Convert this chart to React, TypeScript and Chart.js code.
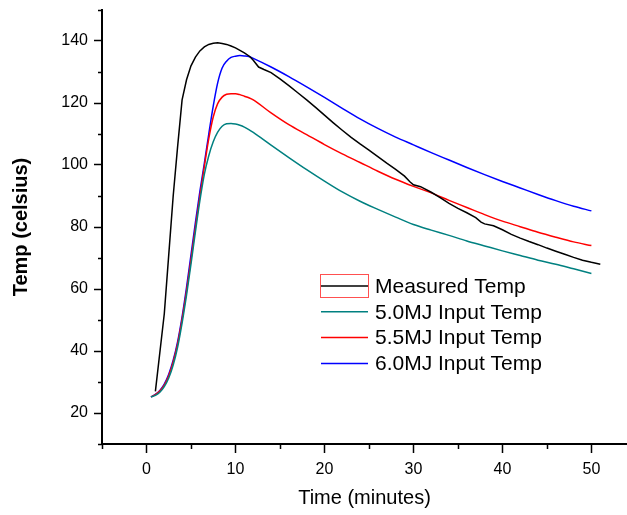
import React, { useEffect, useRef } from 'react';
import { Chart, registerables } from 'chart.js';

Chart.register(...registerables);

const FONT = '"Liberation Sans", Arial, Helvetica, sans-serif';

// Model run times (minutes)
const modelTimes = [
  0.5, 1, 1.5, 2, 2.5, 3, 3.5, 4, 4.5, 5, 5.5, 6, 6.5, 7, 7.5, 8, 8.5, 9, 9.5, 10, 10.5, 11, 11.5, 12,
  14, 16, 18, 20, 22, 24, 26, 28, 30, 32, 34, 36, 38, 40, 42, 44, 46, 48, 50,
];

const input50Temps = [
  25.2, 25.7, 26.7, 28.5, 31.3, 35.5, 41.3, 49.0, 58.0, 68.0, 78.5, 88.5, 97.0, 103.0, 107.5, 110.6, 112.5, 113.3, 113.4, 113.2, 112.8, 112.2, 111.4, 110.5,
  106.4, 102.4, 98.5, 94.8, 91.3, 88.3, 85.7, 83.2, 80.8, 79.0, 77.3, 75.5, 73.9, 72.3, 70.8, 69.3, 68.0, 66.5, 65.0,
];

const input55Temps = [
  25.2, 25.9, 27.1, 29.0, 32.0, 36.5, 42.3, 50.2, 59.3, 69.5, 80.0, 90.0, 99.5, 108.5, 115.5, 119.8, 121.9, 122.8, 123.0, 123.0, 122.7, 122.2, 121.7, 121.0,
  116.8, 113.0, 109.8, 106.6, 103.6, 100.8, 98.0, 95.4, 93.1, 91.0, 88.6, 86.3, 84.0, 81.9, 80.1, 78.3, 76.7, 75.2, 74.0,
];

const input60Temps = [
  25.2, 26.0, 27.3, 29.3, 32.5, 37.0, 43.0, 51.0, 60.5, 71.0, 81.5, 91.5, 100.5, 110.0, 119.0, 126.5, 131.3, 133.5, 134.7, 135.1, 135.3, 135.2, 135.0, 134.4,
  131.6, 128.5, 125.2, 121.8, 118.3, 114.9, 111.8, 109.0, 106.5, 104.0, 101.6, 99.2, 96.9, 94.7, 92.6, 90.5, 88.5, 86.7, 85.2,
];

// Measured data
const measuredTimes = [
  1, 2, 2.5, 3, 3.5, 4, 4.5, 5, 5.5, 6, 6.5, 7, 7.5, 8, 8.5, 9, 9.5, 10, 10.5, 11, 11.6, 12, 12.6, 13.2, 14, 15, 16, 17, 18, 19,
  20, 21, 22, 23, 24, 25, 26, 27, 28, 29, 29.6, 30, 30.8, 32, 33, 34, 35, 36, 37, 37.6, 38, 39, 40, 41, 42, 43, 44, 45, 46, 47,
  48, 49, 50, 51,
];

const measuredTemps = [
  27, 52, 71, 90, 106, 121, 127.5, 132, 134.8, 136.8, 138.1, 138.9, 139.3, 139.4, 139.2, 138.9, 138.4, 137.8, 137.0, 136.2, 135.0, 133.8, 131.6, 130.8, 129.8, 127.8, 125.6, 123.3, 121.0, 118.6,
  116.1, 113.6, 111.2, 108.9, 106.8, 104.8, 102.7, 100.6, 98.6, 96.4, 94.6, 93.6, 93.0, 91.2, 89.5, 87.6, 86.0, 84.6, 83.0, 81.6, 81.0, 80.4, 79.1, 77.6, 76.4, 75.3, 74.3, 73.2, 72.2, 71.2,
  70.2, 69.3, 68.6, 68.0,
];

const seriesLabels = ['Measured Temp', '5.0MJ Input Temp', '5.5MJ Input Temp', '6.0MJ Input Temp'];
const seriesColors = ['#000000', '#008080', '#ff0000', '#0000ff'];

const xTickValues = [0, 10, 20, 30, 40, 50];
const xMinorTickValues = [-5, 5, 15, 25, 35, 45, 55];
const yTickValues = [20, 40, 60, 80, 100, 120, 140];
const yMinorTickValues = [10, 30, 50, 70, 90, 110, 130, 150];

const toPoints = (xs: number[], ys: number[]) => xs.map((x, i) => ({ x, y: ys[i] }));

const minorTicksPlugin = {
  id: 'minorTicks',
  afterDraw(chart: any) {
    const { ctx, chartArea, scales } = chart;
    ctx.save();
    ctx.strokeStyle = '#000';
    ctx.lineWidth = 1.5;
    ctx.beginPath();
    const xs = scales.x;
    xMinorTickValues.forEach((v) => {
      if (v < xs.min || v > xs.max) return;
      const px = Math.round(xs.getPixelForValue(v)) + 0.5;
      ctx.moveTo(px, chartArea.bottom);
      ctx.lineTo(px, chartArea.bottom + 5);
    });
    const ys = scales.y;
    yMinorTickValues.forEach((v) => {
      if (v < ys.min || v > ys.max) return;
      const py = Math.round(ys.getPixelForValue(v)) + 0.5;
      ctx.moveTo(chartArea.left - 4, py);
      ctx.lineTo(chartArea.left, py);
    });
    ctx.stroke();
    ctx.restore();
  },
};

const insideLegendPlugin = {
  id: 'insideLegend',
  afterDraw(chart: any) {
    const { ctx, chartArea } = chart;
    const x0 = chartArea.left + 219;
    const y0 = chartArea.top + 276;
    const rowGap = 25.8;
    const lineLen = 47;
    ctx.save();
    ctx.font = `21px ${FONT}`;
    ctx.textBaseline = 'middle';
    ctx.textAlign = 'left';
    chart.data.datasets.forEach((ds: any, i: number) => {
      const y = y0 + i * rowGap;
      ctx.strokeStyle = ds.borderColor;
      ctx.lineWidth = 1.5;
      ctx.beginPath();
      ctx.moveTo(x0, y);
      ctx.lineTo(x0 + lineLen, y);
      ctx.stroke();
      ctx.fillStyle = '#000';
      ctx.fillText(ds.label, x0 + lineLen + 7, y + 1);
      if (i === 0) {
        ctx.strokeStyle = '#ff5050';
        ctx.lineWidth = 1;
        ctx.strokeRect(x0 - 0.5, y - 11.5, lineLen + 1, 23);
      }
    });
    ctx.restore();
  },
};

export default function App() {
  const canvasRef = useRef<HTMLCanvasElement | null>(null);

  useEffect(() => {
    if (!canvasRef.current) return;
    const chart = new Chart(canvasRef.current, {
      type: 'line',
      data: {
        datasets: [
          {
            label: seriesLabels[0],
            data: toPoints(measuredTimes, measuredTemps),
            borderColor: seriesColors[0],
            borderWidth: 1.5,
            tension: 0,
            pointRadius: 0,
          },
          {
            label: seriesLabels[1],
            data: toPoints(modelTimes, input50Temps),
            borderColor: seriesColors[1],
            borderWidth: 1.5,
            cubicInterpolationMode: 'monotone',
            pointRadius: 0,
          },
          {
            label: seriesLabels[2],
            data: toPoints(modelTimes, input55Temps),
            borderColor: seriesColors[2],
            borderWidth: 1.5,
            cubicInterpolationMode: 'monotone',
            pointRadius: 0,
          },
          {
            label: seriesLabels[3],
            data: toPoints(modelTimes, input60Temps),
            borderColor: seriesColors[3],
            borderWidth: 1.5,
            cubicInterpolationMode: 'monotone',
            pointRadius: 0,
          },
        ],
      },
      options: {
        animation: false,
        responsive: false,
        devicePixelRatio: 1,
        layout: { padding: { top: 10, right: 0, left: 0, bottom: 0 } },
        plugins: {
          legend: { display: false },
          tooltip: { enabled: false },
        },
        scales: {
          x: {
            type: 'linear',
            min: -5,
            max: 54,
            afterBuildTicks: (s: any) => {
              s.ticks = xTickValues.map((v) => ({ value: v }));
            },
            afterFit: (s: any) => {
              s.height = 71;
              s.paddingLeft = 0;
              s.paddingRight = 0;
            },
            ticks: {
              color: '#000',
              font: { family: FONT, size: 16 },
              padding: 7,
              maxRotation: 0,
              autoSkip: false,
            },
            grid: {
              drawOnChartArea: false,
              drawTicks: true,
              tickLength: 9,
              tickColor: '#000',
              tickWidth: 1.5,
            },
            border: { display: true, color: '#000', width: 2 },
            title: {
              display: true,
              text: 'Time (minutes)',
              color: '#000',
              font: { family: FONT, size: 20 },
              padding: { top: 4, bottom: 5 },
            },
          },
          y: {
            type: 'linear',
            min: 10,
            max: 150,
            afterBuildTicks: (s: any) => {
              s.ticks = yTickValues.map((v) => ({ value: v }));
            },
            afterFit: (s: any) => {
              s.width = 102;
              s.paddingTop = 0;
              s.paddingBottom = 0;
            },
            ticks: {
              color: '#000',
              font: { family: FONT, size: 16 },
              padding: 6,
              autoSkip: false,
            },
            grid: {
              drawOnChartArea: false,
              drawTicks: true,
              tickLength: 8,
              tickColor: '#000',
              tickWidth: 1.5,
            },
            border: { display: true, color: '#000', width: 2 },
            title: {
              display: true,
              text: 'Temp (celsius)',
              color: '#000',
              font: { family: FONT, size: 20, weight: 'bold' },
              padding: { top: 9, bottom: 0 },
            },
          },
        },
      },
      plugins: [minorTicksPlugin, insideLegendPlugin],
    });
    return () => chart.destroy();
  }, []);

  return (
    <div style={{ position: 'absolute', left: 0, top: 0, width: 627, height: 515, background: '#fff' }}>
      <canvas ref={canvasRef} width={627} height={515} style={{ display: 'block' }} />
    </div>
  );
}
